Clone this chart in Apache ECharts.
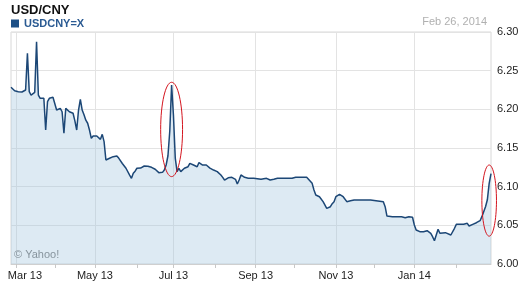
<!DOCTYPE html>
<html>
<head>
<meta charset="utf-8">
<script src="https://cdn.jsdelivr.net/npm/echarts@6/dist/echarts.min.js"></script>
<style>
html,body{margin:0;padding:0;background:#fff;}
#c{width:525px;height:283px;}
</style>
</head>
<body>
<div id="c"></div>
<script>
// ---- data ----
const dates = [
'2013-02-26','2013-02-27','2013-02-28','2013-03-01','2013-03-04','2013-03-05','2013-03-06','2013-03-07','2013-03-08','2013-03-11',
'2013-03-12','2013-03-13','2013-03-14','2013-03-15','2013-03-18','2013-03-19','2013-03-20','2013-03-21','2013-03-22','2013-03-25',
'2013-03-26','2013-03-27','2013-03-28','2013-03-29','2013-04-01','2013-04-02','2013-04-03','2013-04-04','2013-04-05','2013-04-08',
'2013-04-09','2013-04-10','2013-04-11','2013-04-12','2013-04-15','2013-04-16','2013-04-17','2013-04-18','2013-04-19','2013-04-22',
'2013-04-23','2013-04-24','2013-04-25','2013-04-26','2013-04-29','2013-04-30','2013-05-01','2013-05-02','2013-05-03','2013-05-06',
'2013-05-07','2013-05-08','2013-05-09','2013-05-10','2013-05-13','2013-05-14','2013-05-15','2013-05-16','2013-05-17','2013-05-20',
'2013-05-21','2013-05-22','2013-05-23','2013-05-24','2013-05-27','2013-05-28','2013-05-29','2013-05-30','2013-05-31','2013-06-03',
'2013-06-04','2013-06-05','2013-06-06','2013-06-07','2013-06-10','2013-06-11','2013-06-12','2013-06-13','2013-06-14','2013-06-17',
'2013-06-18','2013-06-19','2013-06-20','2013-06-21','2013-06-24','2013-06-25','2013-06-26','2013-06-27','2013-06-28','2013-07-01',
'2013-07-02','2013-07-03','2013-07-04','2013-07-05','2013-07-08','2013-07-09','2013-07-10','2013-07-11','2013-07-12','2013-07-15',
'2013-07-16','2013-07-17','2013-07-18','2013-07-19','2013-07-22','2013-07-23','2013-07-24','2013-07-25','2013-07-26','2013-07-29',
'2013-07-30','2013-07-31','2013-08-01','2013-08-02','2013-08-05','2013-08-06','2013-08-07','2013-08-08','2013-08-09','2013-08-12',
'2013-08-13','2013-08-14','2013-08-15','2013-08-16','2013-08-19','2013-08-20','2013-08-21','2013-08-22','2013-08-23','2013-08-26',
'2013-08-27','2013-08-28','2013-08-30','2013-09-03','2013-09-05','2013-09-10','2013-09-12','2013-09-16','2013-09-18','2013-09-25',
'2013-09-30','2013-10-02','2013-10-10','2013-10-11','2013-10-15','2013-10-16','2013-10-17','2013-10-21','2013-10-23','2013-10-25',
'2013-10-29','2013-10-30','2013-10-31','2013-11-01','2013-11-05','2013-11-07','2013-11-11','2013-11-13','2013-11-15','2013-11-21',
'2013-11-28','2013-12-03','2013-12-09','2013-12-10','2013-12-11','2013-12-16','2013-12-23','2013-12-25','2013-12-27','2013-12-31',
'2014-01-01','2014-01-02','2014-01-06','2014-01-08','2014-01-10','2014-01-13','2014-01-14','2014-01-15','2014-01-16','2014-01-17',
'2014-01-20','2014-01-21','2014-01-22','2014-01-24','2014-01-27','2014-01-29','2014-01-30','2014-01-31','2014-02-03','2014-02-07',
'2014-02-11','2014-02-12','2014-02-14','2014-02-18','2014-02-20','2014-02-21','2014-02-24','2014-02-25','2014-02-26','2014-02-27',
'2014-02-28'
];
const usdcny = [
6.2285,6.2260,6.2241,6.2240,6.2228,6.2230,6.2224,6.2224,6.2250,6.2725,
6.2228,6.2185,6.2207,6.2220,6.2875,6.2185,6.2143,6.2121,6.2143,6.1733,
6.2099,6.2143,6.2130,6.2156,6.2150,6.1991,6.2000,6.2013,6.1969,6.1690,
6.2013,6.2034,6.1969,6.1991,6.1949,6.1850,6.1733,6.1991,6.2130,6.1991,
6.1930,6.1860,6.1820,6.1733,6.1625,6.1655,6.1668,6.1655,6.1646,6.1612,
6.1677,6.1582,6.1345,6.1323,6.1367,6.1345,6.1388,6.1367,6.1397,6.1370,
6.1345,6.1300,6.1280,6.1238,6.1216,6.1150,6.1108,6.1173,6.1200,6.1238,
6.1259,6.1240,6.1216,6.1267,6.1270,6.1265,6.1267,6.1250,6.1238,6.1225,
6.1216,6.1181,6.1181,6.1185,6.1216,6.1280,6.1400,6.1720,6.2315,6.1927,
6.1370,6.1194,6.1238,6.1194,6.1210,6.1238,6.1258,6.1258,6.1302,6.1280,
6.1280,6.1258,6.1258,6.1312,6.1312,6.1280,6.1302,6.1280,6.1258,6.1240,
6.1225,6.1215,6.1207,6.1195,6.1181,6.1151,6.1120,6.1086,6.1108,6.1115,
6.1129,6.1121,6.1121,6.1095,6.1034,6.1086,6.1151,6.1164,6.1121,6.1121,
6.1110,6.1108,6.1108,6.1103,6.1095,6.1108,6.1086,6.1095,6.1108,6.1108,
6.1108,6.1121,6.1121,6.1108,6.1043,6.0957,6.0892,6.0870,6.0806,6.0720,
6.0741,6.0780,6.0806,6.0870,6.0901,6.0870,6.0806,6.0819,6.0828,6.0828,
6.0828,6.0819,6.0806,6.0741,6.0620,6.0612,6.0612,6.0599,6.0612,6.0604,
6.0504,6.0440,6.0418,6.0418,6.0431,6.0449,6.0397,6.0353,6.0301,6.0375,
6.0449,6.0397,6.0418,6.0405,6.0418,6.0375,6.0397,6.0462,6.0513,6.0513,
6.0526,6.0491,6.0513,6.0534,6.0560,6.0612,6.0676,6.0741,6.0830,6.1043,
6.1170
];
const tickLabelDates = ['2013-03-01','2013-05-01','2013-07-01','2013-09-02','2013-11-01','2014-01-01'];
const tickLabels = ['Mar 13','May 13','Jul 13','Sep 13','Nov 13','Jan 14'];
const yTicks = [6.00, 6.05, 6.10, 6.15, 6.20, 6.25, 6.30];
// highlighted regions (data coordinates of ellipse centre, half extents)
const highlightCenters = [['2013-06-28', 6.174], ['2014-02-27', 6.082]];
const highlightHalfSpan = [0.061, 0.046];    // in CNY, vertical half-extent
const highlightHalfDays = [5.5, 3.9];        // in trading days, horizontal half-extent

// ---- category axis: every weekday (trading day) in the range ----
function fmt(d){
  const m = d.getUTCMonth()+1, day = d.getUTCDate();
  return d.getUTCFullYear()+'-'+(m<10?'0':'')+m+'-'+(day<10?'0':'')+day;
}
const categories = [];
const monthFirsts = new Set();
{
  let d = new Date(Date.UTC(2013,1,26));
  const end = new Date(Date.UTC(2014,1,28));
  let lastMonth = -1;
  while (d <= end){
    const wd = d.getUTCDay();
    if (wd !== 0 && wd !== 6){
      const s = fmt(d);
      categories.push(s);
      if (d.getUTCMonth() !== lastMonth){ if (lastMonth !== -1) monthFirsts.add(s); lastMonth = d.getUTCMonth(); }
    }
    d = new Date(d.getTime()+86400000);
  }
}
const labelSet = new Set(tickLabelDates);

const FONT = '"Liberation Sans", Arial, Helvetica, sans-serif';
const chart = echarts.init(document.getElementById('c'), null, {renderer:'canvas'});

const staticGraphics = [
  {type:'text', right:38, top:16, style:{text:'Feb 26, 2014', fill:'#b0b0b0', font:'11px '+FONT}},
  {type:'text', left:14, top:249, style:{text:'\u00A9 Yahoo!', fill:'#7a7a7a', font:'11px '+FONT}}
];

chart.setOption({
  animation:false,
  backgroundColor:'#fff',
  title:{
    text:'USD/CNY', left:6, top:-1,
    textStyle:{fontFamily:FONT, fontSize:13, fontWeight:'bold', color:'#111'}
  },
  legend:{
    data:['USDCNY=X'], left:6, top:13, icon:'rect', itemWidth:8, itemHeight:8,
    selectedMode:false,
    textStyle:{fontFamily:FONT, fontSize:11, fontWeight:'bold', color:'#2a5a92'}
  },
  graphic:staticGraphics,
  grid:{left:11, right:34, top:32, bottom:19, show:true, borderColor:'#d8d8d8', borderWidth:1, backgroundColor:'transparent'},
  xAxis:{
    type:'category', data:categories, boundaryGap:false,
    axisLine:{show:true, lineStyle:{color:'#cfcfcf'}},
    axisTick:{show:true, length:4, lineStyle:{color:'#c8c8c8'},
      interval:(i,v)=>monthFirsts.has(v) || labelSet.has(v)},
    axisLabel:{
      interval:(i,v)=>labelSet.has(v),
      margin:6, color:'#222', fontSize:11, fontFamily:FONT,
      formatter:(v)=>{
        const k = tickLabelDates.indexOf(v);
        if (k < 0) return '';
        return k === 0 ? '{first|'+tickLabels[k]+'}' : tickLabels[k];
      },
      rich:{first:{padding:[0,0,0,17], fontSize:11, fontFamily:FONT, color:'#222'}}
    },
    splitLine:{show:true, interval:(i,v)=>labelSet.has(v), lineStyle:{color:'#e3e3e3', width:1}}
  },
  yAxis:{
    type:'value', position:'right', min:yTicks[0], max:yTicks[yTicks.length-1], interval:0.05,
    axisLine:{show:false}, axisTick:{show:false},
    axisLabel:{margin:6, color:'#222', fontSize:11, fontFamily:FONT, formatter:(v)=>v.toFixed(2)},
    splitLine:{show:true, lineStyle:{color:'#e3e3e3', width:1}}
  },
  series:[{
    name:'USDCNY=X', type:'line', symbol:'none', smooth:false,
    data:dates.map((d,i)=>[d, usdcny[i]]),
    itemStyle:{color:'#1d4f86'},
    lineStyle:{color:'#1c4776', width:1.5},
    areaStyle:{color:'rgba(160,195,222,0.5)', origin:'start'}
  }]
});

// red highlight ellipses, placed through the chart's own coordinate system
const ellipses = highlightCenters.map((c, i) => {
  const idx = categories.indexOf(c[0]);
  const p  = chart.convertToPixel({gridIndex:0}, [idx, c[1]]);
  const pT = chart.convertToPixel({gridIndex:0}, [idx, c[1] + highlightHalfSpan[i]]);
  const pR = chart.convertToPixel({gridIndex:0}, [idx + highlightHalfDays[i], c[1]]);
  return {
    type:'ellipse', silent:true, z:100,
    shape:{cx:p[0], cy:p[1], rx:Math.abs(pR[0]-p[0]), ry:Math.abs(p[1]-pT[1])},
    style:{fill:null, stroke:'#d4141e', lineWidth:1}
  };
});
chart.setOption({graphic:staticGraphics.concat(ellipses)}, {replaceMerge:['graphic']});
</script>
</body>
</html>
